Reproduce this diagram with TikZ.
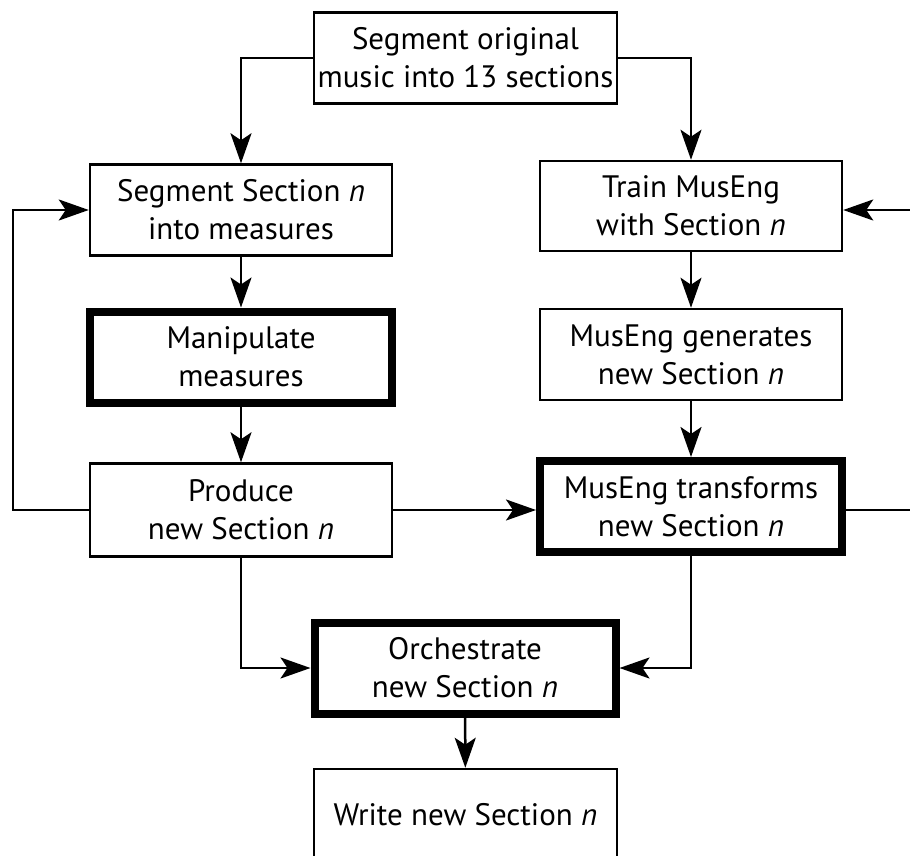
\documentclass[tikz,border=0pt]{standalone}
\usepackage{fontspec}
\setmainfont{PT Sans}
\usetikzlibrary{arrows.meta}
\tikzset{
  box/.style={draw, line width=2.5pt, minimum width=302pt, minimum height=91pt,
    inner sep=0pt, align=center, font=\fontsize{31}{38}\selectfont},
  boldbox/.style={box, line width=8pt},
  arr/.style={line width=2.5pt, -{Stealth[length=30pt,width=21pt,inset=7pt]}}
}
\begin{document}
\begin{tikzpicture}[x=1pt,y=-1pt]
  \useasboundingbox (0,0) rectangle (910,856);

  \node[box, minimum width=303pt] (orig) at (465.5,58) {Segment original\\music into 13 sections};
  \node[box] (seg) at (241,210) {Segment Section \textit{n}\\into measures};
  \node[box, minimum height=90pt] (train) at (691,206) {Train MusEng\\with Section \textit{n}};
  \node[boldbox] (manip) at (241,357) {Manipulate\\measures};
  \node[box] (gen) at (691,354.5) {MusEng generates\\new Section \textit{n}};
  \node[box, minimum height=93pt] (prod) at (241,510) {Produce\\new Section \textit{n}};
  \node[boldbox] (trans) at (691,506.5) {MusEng transforms\\new Section \textit{n}};
  \node[boldbox, minimum width=301pt] (orch) at (465,668) {Orchestrate\\new Section \textit{n}};
  \node[box, minimum width=303pt] (write) at (465.5,814.5) {Write new Section \textit{n}};

  \coordinate (lft) at (13,510);
  \coordinate (rgt) at (910,510);
  \coordinate (rin) at (910,210);

  \draw[arr] (orig.west) -| (seg.north);
  \draw[arr] (orig.east) -| (train.north);
  \draw[arr] (seg) -- (manip);
  \draw[arr] (manip) -- (prod);
  \draw[arr] (train) -- (gen);
  \draw[arr] (gen) -- (trans);
  \draw[arr] (prod.east) -- (prod.east -| trans.west);
  \draw[arr] (prod.west) -- (lft) |- (seg.west);
  \draw[line width=2.5pt] (rgt -| trans.east) -- (rgt);
  \draw[arr] (rin) -- (rin -| train.east);
  \draw[arr] (prod.south) |- (orch.west);
  \draw[arr] (trans.south) |- (orch.east);
  \draw[arr] (orch) -- (write);
\end{tikzpicture}
\end{document}
